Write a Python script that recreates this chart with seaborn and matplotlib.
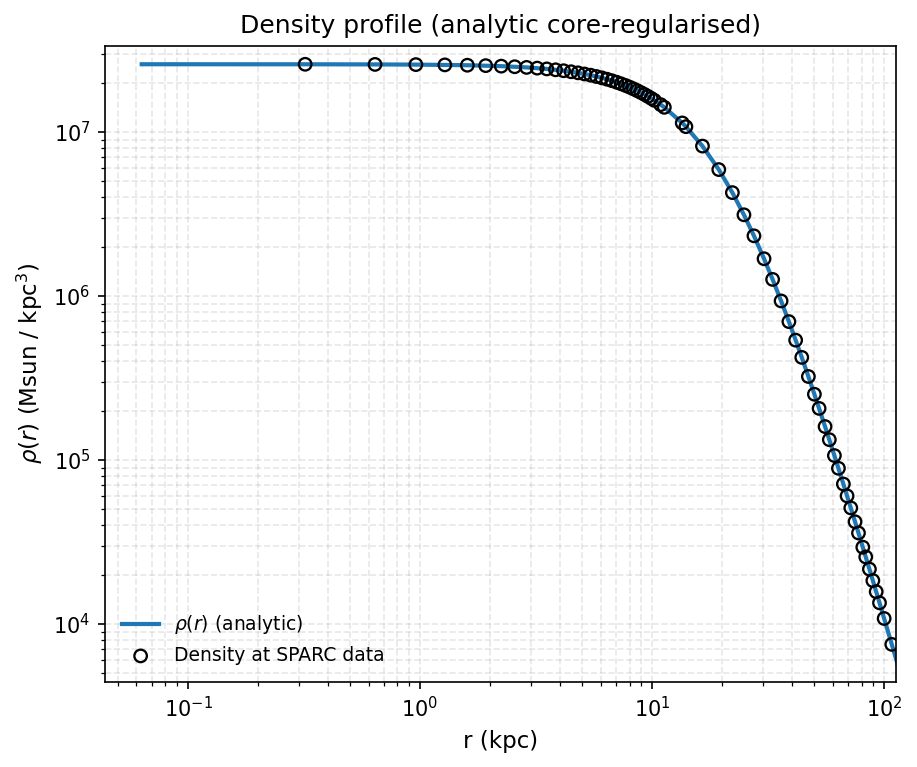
import numpy as np
import pandas as pd
import seaborn as sns
import matplotlib.pyplot as plt

r_data = [0.32, 0.64, 0.96, 1.28, 1.60, 1.92, 2.24, 2.56, 2.88, 3.20,
          3.52, 3.84, 4.16, 4.48, 4.80, 5.12, 5.44, 5.76, 6.08, 6.40,
          6.72, 7.04, 7.36, 7.68, 8.00, 8.32, 8.64, 8.96, 9.28, 9.60,
          9.92, 10.24, 10.9, 11.3, 13.5, 14.0, 16.5, 19.4, 22.2, 24.9,
          27.5, 30.4, 33.1, 36.0, 38.9, 41.6, 44.2, 47.2, 50.1, 52.5,
          55.7, 58.1, 61.1, 63.6, 66.8, 69.3, 71.9, 75.0, 77.6, 81.0,
          83.4, 86.5, 89.5, 92.5, 95.6, 100.1, 108.0]
rho_data = [2.589e7, 2.584e7, 2.577e7, 2.567e7, 2.555e7, 2.540e7, 2.522e7, 2.501e7, 2.478e7, 2.453e7,
            2.426e7, 2.396e7, 2.365e7, 2.331e7, 2.296e7, 2.259e7, 2.221e7, 2.181e7, 2.140e7, 2.099e7,
            2.056e7, 2.012e7, 1.968e7, 1.924e7, 1.879e7, 1.833e7, 1.787e7, 1.741e7, 1.696e7, 1.650e7,
            1.605e7, 1.560e7, 1.469e7, 1.415e7, 1.136e7, 1.078e7, 8.208e6, 5.903e6, 4.271e6, 3.129e6,
            2.329e6, 1.688e6, 1.263e6, 9.337e5, 6.983e5, 5.382e5, 4.226e5, 3.232e5, 2.519e5, 2.065e5,
            1.600e5, 1.331e5, 1.065e5, 8.908e4, 7.140e4, 6.043e4, 5.106e4, 4.205e4, 3.591e4, 2.941e4,
            2.566e4, 2.162e4, 1.841e4, 1.575e4, 1.347e4, 1.081e4, 7.516e3]

# analytic curve
r_curve = [0.0632, 0.1, 0.2, 0.32, 0.64, 0.96, 1.60, 2.24, 2.88, 3.52,
           4.16, 4.80, 5.44, 6.08, 6.72, 7.36, 8.00, 8.64, 9.28, 9.92,
           10.9, 11.3, 13.5, 14.0, 16.5, 19.4, 22.2, 24.9, 27.5, 30.4,
           33.1, 36.0, 38.9, 41.6, 44.2, 47.2, 50.1, 55.7, 61.1, 66.8,
           71.9, 77.6, 83.4, 89.5, 95.6, 100.1, 108.0, 115.0, 120.0]
rho_curve = [2.590e7, 2.590e7, 2.589e7, 2.589e7, 2.584e7, 2.577e7, 2.555e7, 2.522e7, 2.478e7, 2.426e7,
             2.365e7, 2.296e7, 2.221e7, 2.140e7, 2.056e7, 1.968e7, 1.879e7, 1.787e7, 1.696e7, 1.605e7,
             1.469e7, 1.415e7, 1.136e7, 1.078e7, 8.208e6, 5.903e6, 4.271e6, 3.129e6, 2.329e6, 1.688e6,
             1.263e6, 9.337e5, 6.983e5, 5.382e5, 4.226e5, 3.232e5, 2.519e5, 1.600e5, 1.065e5, 7.140e4,
             5.106e4, 3.591e4, 2.566e4, 1.841e4, 1.347e4, 1.081e4, 7.516e3, 5.552e3, 4.519e3]

df_data = pd.DataFrame({"r": r_data, "rho": rho_data})
df_curve = pd.DataFrame({"r": r_curve, "rho": rho_curve})

fig, ax = plt.subplots(figsize=(917 / 150, 767 / 150), dpi=150)
fig.subplots_adjust(left=0.1145, right=0.9768, top=0.9404, bottom=0.1112)

sns.lineplot(data=df_curve, x="r", y="rho", color="tab:blue", lw=2,
             label=r"$\rho(r)$ (analytic)", ax=ax)
sns.scatterplot(data=df_data, x="r", y="rho", marker="o", s=36,
                facecolors="none", edgecolor="black", linewidth=1.1,
                label="Density at SPARC data", ax=ax, zorder=3)

ax.set_xscale("log")
ax.set_yscale("log")
ax.set_xlim(0.0439, 112.3)
ax.set_ylim(4.45e3, 3.36e7)
ax.grid(True, which="both", ls="--", alpha=0.3)

ax.set_xlabel("r (kpc)", fontsize=11)
ax.set_ylabel(r"$\rho(r)$ (Msun / kpc$^3$)", fontsize=11)
ax.set_title("Density profile (analytic core-regularised)", fontsize=12)
ax.legend(loc="lower left", frameon=False, fontsize=9)

fig.savefig("out.png", dpi=150)
plt.close()
